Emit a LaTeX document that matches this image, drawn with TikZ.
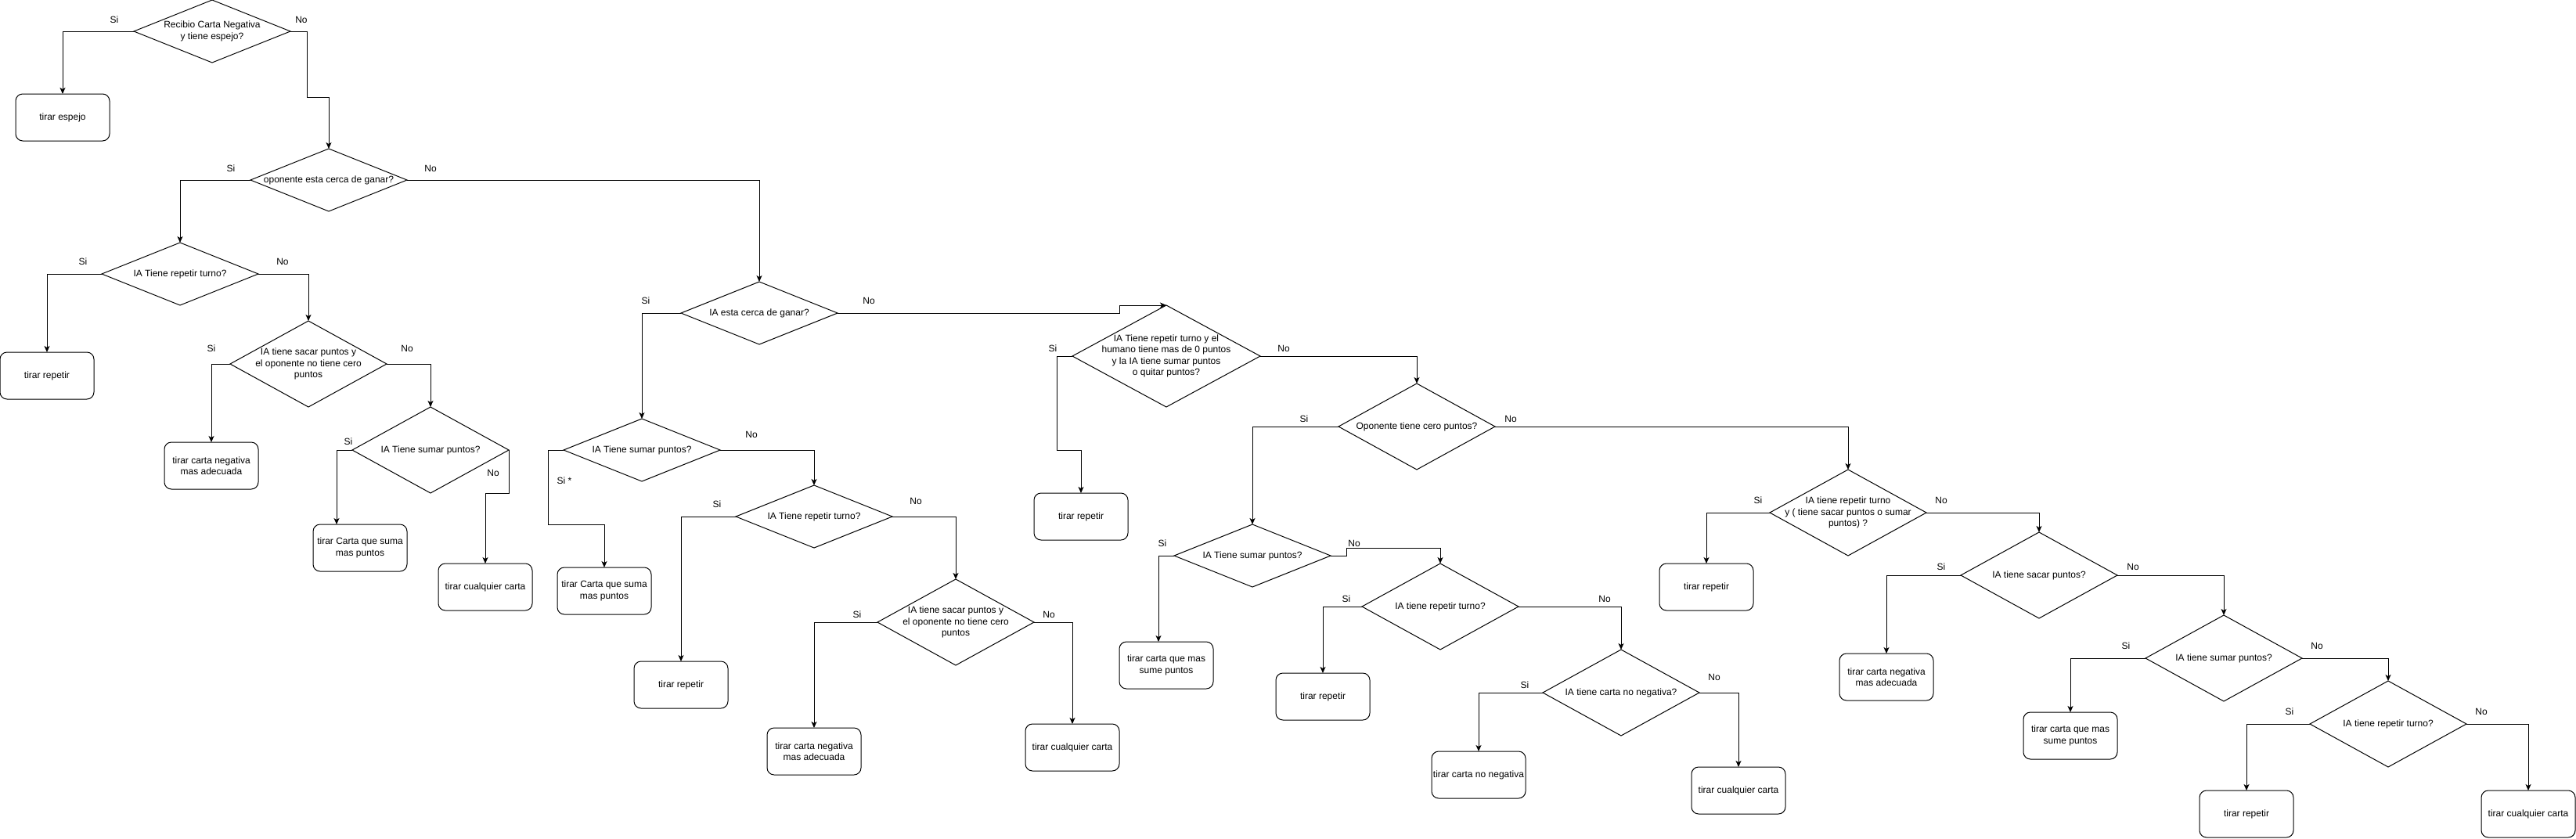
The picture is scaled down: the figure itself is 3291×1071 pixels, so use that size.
\documentclass[tikz,border=0pt]{standalone}
\usepackage{fontspec}
\setmainfont{Liberation Sans}
\usetikzlibrary{shapes.geometric,arrows.meta}

\begin{document}
\begin{tikzpicture}
        [x=1pt,y=-1pt,line width=1pt,>={Stealth[length=8pt,width=7pt,inset=2pt]},
         font=\fontsize{12}{14.4}\selectfont,
         dec/.style={diamond,draw,inner sep=0pt,outer sep=0pt,minimum width=200pt,minimum height=80pt},
         tall/.style={minimum height=110pt},
         q/.style={label={[align=center]center:{#1}}},
         act/.style={rectangle,draw,rounded corners=9pt,outer sep=0pt,inner sep=0pt,
                     minimum width=120pt,minimum height=60pt,align=center}]
        \useasboundingbox (0,0) rectangle (3291,1071);

        % preguntas
        \node[dec,q={Recibio Carta Negativa\\y tiene espejo?}] (d1) at (271,40) {};
        \node[dec,q={oponente esta cerca de ganar?}] (d2) at (420,230) {};
        \node[dec,q={IA Tiene repetir turno?}] (d3) at (230,350) {};
        \node[dec,tall,q={IA tiene sacar puntos y\\el oponente no tiene cero\\puntos}] (d5) at (394,465) {};
        \node[dec,tall,q={IA Tiene sumar puntos?}] (d6) at (550,575) {};
        \node[dec,q={IA esta cerca de ganar?}] (d4) at (970,400) {};
        \node[dec,q={IA Tiene sumar puntos?}] (d7) at (820,575) {};
        \node[dec,q={IA Tiene repetir turno?}] (d9) at (1040,660) {};
        \node[dec,tall,q={IA tiene sacar puntos y\\el oponente no tiene cero\\puntos}] (d10) at (1221,795) {};
        \node[dec,minimum width=240pt,minimum height=130pt,
              q={IA Tiene repetir turno y el\\humano tiene mas de 0 puntos\\y la IA tiene sumar puntos\\o quitar puntos?}] (d8) at (1490,455) {};
        \node[dec,tall,q={Oponente tiene cero puntos?}] (d11) at (1810,545) {};
        \node[dec,q={IA Tiene sumar puntos?}] (d12) at (1600,710) {};
        \node[dec,tall,q={IA tiene repetir turno?}] (d14) at (1840,775) {};
        \node[dec,tall,q={IA tiene carta no negativa?}] (d15) at (2071,885) {};
        \node[dec,tall,q={IA tiene repetir turno\\y ( tiene sacar puntos o sumar\\puntos) ?}] (d13) at (2361,655) {};
        \node[dec,tall,q={IA tiene sacar puntos?}] (d16) at (2605,735) {};
        \node[dec,tall,q={IA tiene sumar puntos?}] (d17) at (2841,841) {};
        \node[dec,tall,q={IA tiene repetir turno?}] (d18) at (3051,925) {};

        % acciones
        \node[act] (b1) at (80,150) {tirar espejo};
        \node[act] (b2) at (60,480) {tirar repetir};
        \node[act] (b3) at (270,595) {tirar carta negativa\\mas adecuada};
        \node[act] (b4) at (460,700) {tirar Carta que suma\\mas puntos};
        \node[act] (b5) at (620,750) {tirar cualquier carta};
        \node[act] (b6) at (772,755) {tirar Carta que suma\\mas puntos};
        \node[act] (b7) at (870,875) {tirar repetir};
        \node[act] (b8) at (1040,960) {tirar carta negativa\\mas adecuada};
        \node[act] (b9) at (1370,955) {tirar cualquier carta};
        \node[act] (b10) at (1381,660) {tirar repetir};
        \node[act] (b11) at (1490,850) {tirar carta que mas\\sume puntos};
        \node[act] (b12) at (1690,890) {tirar repetir};
        \node[act] (b13) at (1889,990) {tirar carta no negativa};
        \node[act] (b14) at (2221,1010) {tirar cualquier carta};
        \node[act] (b15) at (2180,750) {tirar repetir};
        \node[act] (b16) at (2410,865) {tirar carta negativa\\mas adecuada};
        \node[act] (b17) at (2645,940) {tirar carta que mas\\sume puntos};
        \node[act] (b18) at (2870,1040) {tirar repetir};
        \node[act] (b19) at (3230,1040) {tirar cualquier carta};

        % ramas Si / No
        \foreach \from/\to in {d1/b1,d2/d3,d3/b2,d5/b3,d4/d7,d9/b7,d10/b8,d11/d12,
                               d14/b12,d15/b13,d13/b15,d16/b16,d17/b17,d18/b18}
        \draw[->] (\from.west) -| (\to.north);
        \foreach \from/\to in {d2/d4,d3/d5,d5/d6,d7/d9,d9/d10,d10/b9,d8/d11,d11/d13,
                               d14/d15,d15/b14,d13/d16,d16/d17,d17/d18,d18/b19}
        \draw[->] (\from.east) -| (\to.north);

        \draw[->] (d1.east) -- ++(21,0) |- ([yshift=66pt]d2.north) -- (d2.north);
        \draw[->] (d6.west) -| ([xshift=-30pt]b4.north);
        \draw[->] (d6.east) -- ++(0,55) -| (b5.north);
        \draw[->] (d4.east) -- ++(360,0) |- (d8.north);
        \draw[->] (d7.west) -- ++(-20,0) -- ++(0,95) -| (b6.north);
        \draw[->] (d8.west) -- ++(-20,0) -- ++(0,120) -| (b10.north);
        \draw[->] (d12.west) -| ([xshift=-10pt]b11.north);
        \draw[->] (d12.east) -- ++(20,0) -- ++(0,-10) -| (d14.north);

        % etiquetas
        \foreach \x/\y [count=\i] in {146/25,295/215,106/334,270/445,445/564,825/384,916/644,
                                      1095/785,1345/445,1666/535,1485/694,1720/765,1948/875,
                                      2246/639,2480/724,2716/825,2925/909}
        \node (si\i) at (\x,\y) {Si};
        \node (si0) at (721,614) {Si *};
        \foreach \x/\y [count=\i] in {385/25,550/215,361/334,520/445,630/604,1110/384,960/555,
                                      1170/640,1340/785,1640/445,1930/535,1730/694,2050/765,
                                      2190/865,2480/639,2725/724,2960/825,3170/909}
        \node (no\i) at (\x,\y) {No};
\end{tikzpicture}
\end{document}
